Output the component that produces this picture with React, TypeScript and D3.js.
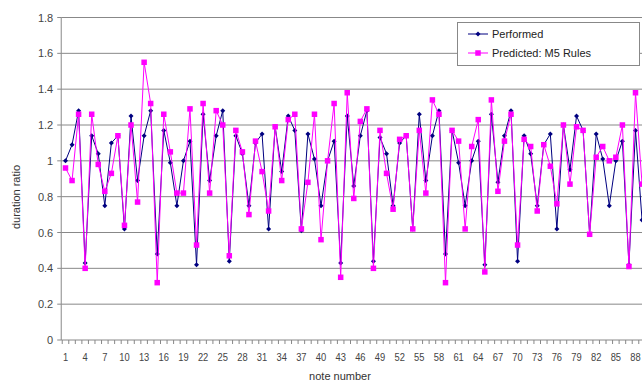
import React from "react";
import * as d3 from "d3";

const notes: number[] = Array.from({ length: 89 }, (_, i) => i + 1);

const performed: number[] = [
  1.0, 1.09, 1.28, 0.43, 1.14, 1.04, 0.75, 1.1, 1.14, 0.62,
  1.25, 0.89, 1.14, 1.28, 0.48, 1.17, 0.99, 0.75, 1.0, 1.11,
  0.42, 1.26, 0.89, 1.14, 1.28, 0.44, 1.14, 1.04, 0.75, 1.1,
  1.15, 0.62, 1.19, 0.94, 1.25, 1.17, 0.61, 1.15, 1.01, 0.75,
  1.0, 1.11, 0.43, 1.25, 0.86, 1.14, 1.28, 0.44, 1.13, 1.04,
  0.75, 1.1, 1.14, 0.62, 1.26, 0.89, 1.14, 1.28, 0.48, 1.17,
  0.99, 0.75, 1.0, 1.11, 0.42, 1.26, 0.88, 1.14, 1.28, 0.44,
  1.14, 1.04, 0.75, 1.09, 1.15, 0.62, 1.2, 0.95, 1.25, 1.17,
  0.59, 1.15, 1.01, 0.75, 1.0, 1.11, 0.42, 1.17, 0.67,
];

const predicted: number[] = [
  0.96, 0.89, 1.26, 0.4, 1.26, 0.98, 0.83, 0.93, 1.14, 0.64,
  1.2, 0.77, 1.55, 1.32, 0.32, 1.26, 1.05, 0.82, 0.82, 1.29,
  0.53, 1.32, 0.82, 1.28, 1.2, 0.47, 1.17, 1.05, 0.7, 1.11,
  0.94, 0.72, 1.19, 0.89, 1.23, 1.26, 0.62, 0.88, 1.26, 0.56,
  1.0, 1.32, 0.35, 1.38, 0.79, 1.22, 1.29, 0.4, 1.17, 0.93,
  0.73, 1.12, 1.14, 0.62, 1.17, 0.82, 1.34, 1.26, 0.32, 1.17,
  1.11, 0.62, 1.08, 1.23, 0.38, 1.34, 0.83, 1.11, 1.26, 0.53,
  1.12, 1.08, 0.72, 1.09, 0.97, 0.76, 1.2, 0.87, 1.19, 1.17,
  0.59, 1.02, 1.08, 1.0, 1.02, 1.2, 0.41, 1.38, 0.87,
];

const yTicks: number[] = [0, 0.2, 0.4, 0.6, 0.8, 1, 1.2, 1.4, 1.6, 1.8];
const yTickLabels: string[] = ["0", "0.2", "0.4", "0.6", "0.8", "1", "1.2", "1.4", "1.6", "1.8"];
const xTickLabels: number[] = notes.filter((n) => (n - 1) % 3 === 0);
const seriesNames: string[] = ["Performed", "Predicted: M5 Rules"];

const W = 642;
const H = 383;
const FONT = "'Liberation Sans', Arial, sans-serif";
const NAVY = "#000080";
const MAGENTA = "#ff00ff";
const GRID = "#888888";

export default function App() {
  const x = d3.scaleLinear().domain([1, 88]).range([65.5, 635.5]);
  const y = d3.scaleLinear().domain([0, 1.8]).range([340, 17.5]);
  const left = x(0.5) - 1;
  const right = 720;

  const line = d3
    .line<number>()
    .x((_, i) => x(notes[i]))
    .y((d) => y(d));

  const boundaries = d3.range(0.5, 90, 1);

  return (
    <svg
      width={W}
      height={H}
      style={{ position: "fixed", left: 0, top: 0, background: "#fff" }}
      fontFamily={FONT}
    >
      <rect x={0} y={0} width={W} height={H} fill="#fff" />
      {/* gridlines */}
      {yTicks.map((t) => (
        <g key={t}>
          <line x1={left} x2={right} y1={y(t)} y2={y(t)} stroke={GRID} strokeWidth={1} />
          <line x1={left - 4} x2={left} y1={y(t)} y2={y(t)} stroke={GRID} strokeWidth={1} />
        </g>
      ))}
      {/* y axis */}
      <line x1={left} x2={left} y1={y(1.8)} y2={y(0)} stroke={GRID} strokeWidth={1} />
      {yTicks.map((t, i) => (
        <text
          key={"yl" + t}
          x={left - 8}
          y={y(t) + 4}
          textAnchor="end"
          fontSize={11}
          fill="#444"
        >
          {yTickLabels[i]}
        </text>
      ))}
      {/* x axis ticks */}
      {boundaries.map((b) => (
        <line key={"xt" + b} x1={x(b)} x2={x(b)} y1={y(0)} y2={y(0) + 4} stroke={GRID} strokeWidth={1} />
      ))}
      {xTickLabels.map((n) => (
        <text key={"xl" + n} x={x(n)} y={361} textAnchor="middle" fontSize={11} fill="#444" transform={`translate(${x(n)},0) scale(0.85,1) translate(${-x(n)},0)`}>
          {n}
        </text>
      ))}
      <text x={340} y={380} textAnchor="middle" fontSize={11} fill="#333">
        note number
      </text>
      <text
        transform={`translate(20,197) rotate(-90)`}
        textAnchor="middle"
        fontSize={11}
        fill="#333"
      >
        duration ratio
      </text>

      {/* performed series */}
      <path d={line(performed) || ""} fill="none" stroke={NAVY} strokeWidth={1} />
      {performed.map((v, i) => {
        const cx = x(notes[i]);
        const cy = y(v);
        return (
          <path
            key={"p" + i}
            d={`M${cx},${cy - 2.5}L${cx + 2.5},${cy}L${cx},${cy + 2.5}L${cx - 2.5},${cy}Z`}
            fill={NAVY}
          />
        );
      })}
      {/* predicted series */}
      <path d={line(predicted) || ""} fill="none" stroke={MAGENTA} strokeWidth={1} />
      {predicted.map((v, i) => (
        <rect
          key={"q" + i}
          x={x(notes[i]) - 2.75}
          y={y(v) - 2.75}
          width={5.5}
          height={5.5}
          fill={MAGENTA}
        />
      ))}

      {/* legend */}
      <rect x={457.5} y={22.5} width={182} height={43} fill="#fff" stroke={GRID} strokeWidth={1} />
      <line x1={468} x2={488} y1={34} y2={34} stroke={NAVY} strokeWidth={1} />
      <path d="M478,31.5L480.5,34L478,36.5L475.5,34Z" fill={NAVY} />
      <text x={492} y={38} fontSize={11} fill="#222">
        {seriesNames[0]}
      </text>
      <line x1={468} x2={488} y1={53} y2={53} stroke={MAGENTA} strokeWidth={1} />
      <rect x={475.25} y={50.25} width={5.5} height={5.5} fill={MAGENTA} />
      <text x={492} y={57} fontSize={11} fill="#222">
        {seriesNames[1]}
      </text>
    </svg>
  );
}
